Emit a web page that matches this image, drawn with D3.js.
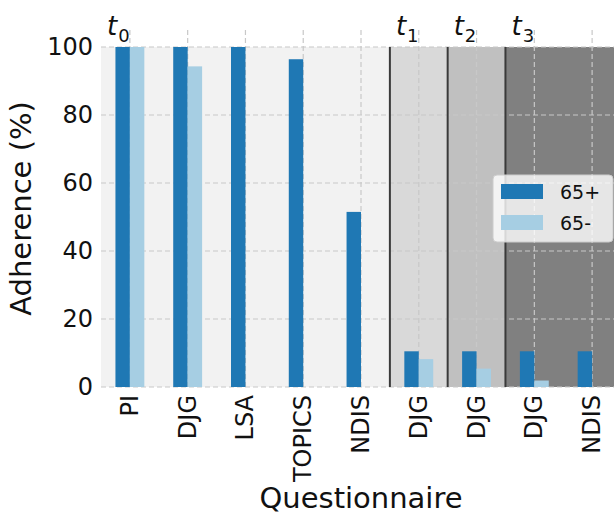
<!DOCTYPE html>
<html>
<head>
<meta charset="utf-8">
<script src="https://cdn.jsdelivr.net/npm/d3@7"></script>
<style>
  html, body { margin: 0; padding: 0; background: #ffffff; }
  svg { display: block; font-family: "DejaVu Sans", sans-serif; }
</style>
</head>
<body>
<svg id="chart" width="614" height="516"></svg>
<script>
// ---- data ----
const categories = ["PI", "DJG", "LSA", "TOPICS", "NDIS", "DJG", "DJG", "DJG", "NDIS"];
const older = [100, 100, 100, 96.4, 51.5, 10.5, 10.5, 10.5, 10.5];   // 65+
const younger = [100, 94.3, 0, 0, 0, 8.2, 5.4, 1.9, 0];             // 65-
const seriesNames = ["65+", "65-"];
const periodLabels = ["0", "1", "2", "3"];        // subscripts of t
const periodStart = [0, 5, 6, 7];                  // first category index of each period
const periodEnd = [4, 5, 6, 8];                    // last category index of each period
const yTicks = [0, 20, 40, 60, 80, 100];

// ---- styles ----
const seriesColors = ["#1f78b4", "#a6cee3"];
const periodColors = ["#f2f2f2", "#d9d9d9", "#c0c0c0", "#808080"];

const svg = d3.select("#chart");
const pLeft = 101, pRight = 621, pTop = 30, pBottom = 387;

const x = d3.scaleBand()
  .domain(d3.range(categories.length))
  .range([pLeft, pRight])
  .paddingInner(0).paddingOuter(0);
const y = d3.scaleLinear().domain([0, 105]).range([pBottom, pTop]);
const step = x.step();
const barW = step * 0.25;
const cx = i => x(i) + x.bandwidth() / 2;

// period backgrounds
svg.append("g").selectAll("rect").data(periodStart).join("rect")
  .attr("x", (d, i) => x(d))
  .attr("width", (d, i) => x(periodEnd[i]) + x.bandwidth() - x(d))
  .attr("y", y(100))
  .attr("height", y(0) - y(100))
  .attr("fill", (d, i) => periodColors[i]);

// grid
const grid = svg.append("g").attr("stroke", "#c8c8c8").attr("stroke-width", 1.2)
  .attr("stroke-dasharray", "5,3").attr("fill", "none");
grid.selectAll("line.h").data(yTicks).join("line").attr("class", "h")
  .attr("x1", pLeft).attr("x2", pRight)
  .attr("y1", d => y(d)).attr("y2", d => y(d));
grid.selectAll("line.v").data(d3.range(categories.length)).join("line").attr("class", "v")
  .attr("x1", d => cx(d)).attr("x2", d => cx(d))
  .attr("y1", pTop).attr("y2", pBottom);

// period boundary lines
svg.append("g").selectAll("line").data(periodStart.slice(1)).join("line")
  .attr("x1", d => x(d)).attr("x2", d => x(d))
  .attr("y1", y(100)).attr("y2", y(0))
  .attr("stroke", "#3a3a3a").attr("stroke-width", 2);

// bars
const bars = svg.append("g");
bars.selectAll("rect.o").data(older).join("rect").attr("class", "o")
  .attr("x", (d, i) => cx(i) - barW)
  .attr("width", barW)
  .attr("y", d => y(d))
  .attr("height", d => y(0) - y(d))
  .attr("fill", seriesColors[0]);
bars.selectAll("rect.yg").data(younger).join("rect").attr("class", "yg")
  .attr("x", (d, i) => cx(i))
  .attr("width", barW)
  .attr("y", d => y(d))
  .attr("height", d => y(0) - y(d))
  .attr("fill", seriesColors[1]);

// period labels t_k
const tl = svg.append("g").selectAll("text").data(periodStart).join("text")
  .attr("x", d => x(d) + 6)
  .attr("y", 35)
  .attr("fill", "#111");
tl.append("tspan").attr("font-style", "italic").attr("font-size", 26).text("t");
tl.append("tspan").attr("font-size", 18).attr("dy", 7).attr("dx", 1).text((d, i) => periodLabels[i]);

// y axis tick labels
svg.append("g").selectAll("text").data(yTicks).join("text")
  .attr("x", 93).attr("y", d => y(d))
  .attr("text-anchor", "end").attr("dominant-baseline", "central")
  .attr("font-size", 24).attr("fill", "#111")
  .text(d => d);

// x axis tick labels
svg.append("g").selectAll("text").data(categories).join("text")
  .attr("transform", (d, i) => `translate(${cx(i)},395) rotate(-90)`)
  .attr("text-anchor", "end").attr("dominant-baseline", "central")
  .attr("font-size", 24).attr("fill", "#111")
  .text(d => d);

// axis titles
svg.append("text")
  .attr("transform", `translate(31,${(pTop + pBottom) / 2}) rotate(-90)`)
  .attr("text-anchor", "middle").attr("font-size", 29).attr("fill", "#111")
  .text("Adherence (%)");
svg.append("text")
  .attr("x", (pLeft + pRight) / 2).attr("y", 508)
  .attr("text-anchor", "middle").attr("font-size", 29).attr("fill", "#111")
  .text("Questionnaire");

// legend
const lg = svg.append("g");
lg.append("rect").attr("x", 493).attr("y", 175).attr("width", 120).attr("height", 67)
  .attr("rx", 4).attr("fill", "#ffffff").attr("fill-opacity", 0.8)
  .attr("stroke", "#cccccc").attr("stroke-width", 1);
const items = lg.selectAll("g.item").data(seriesNames).join("g").attr("class", "item")
  .attr("transform", (d, i) => `translate(0,${i * 31})`);
items.append("rect").attr("x", 501).attr("y", 184).attr("width", 42).attr("height", 15)
  .attr("fill", (d, i) => seriesColors[i]);
items.append("text").attr("x", 560).attr("y", 191.5)
  .attr("dominant-baseline", "central").attr("font-size", 19).attr("fill", "#111")
  .text(d => d);
</script>
</body>
</html>
